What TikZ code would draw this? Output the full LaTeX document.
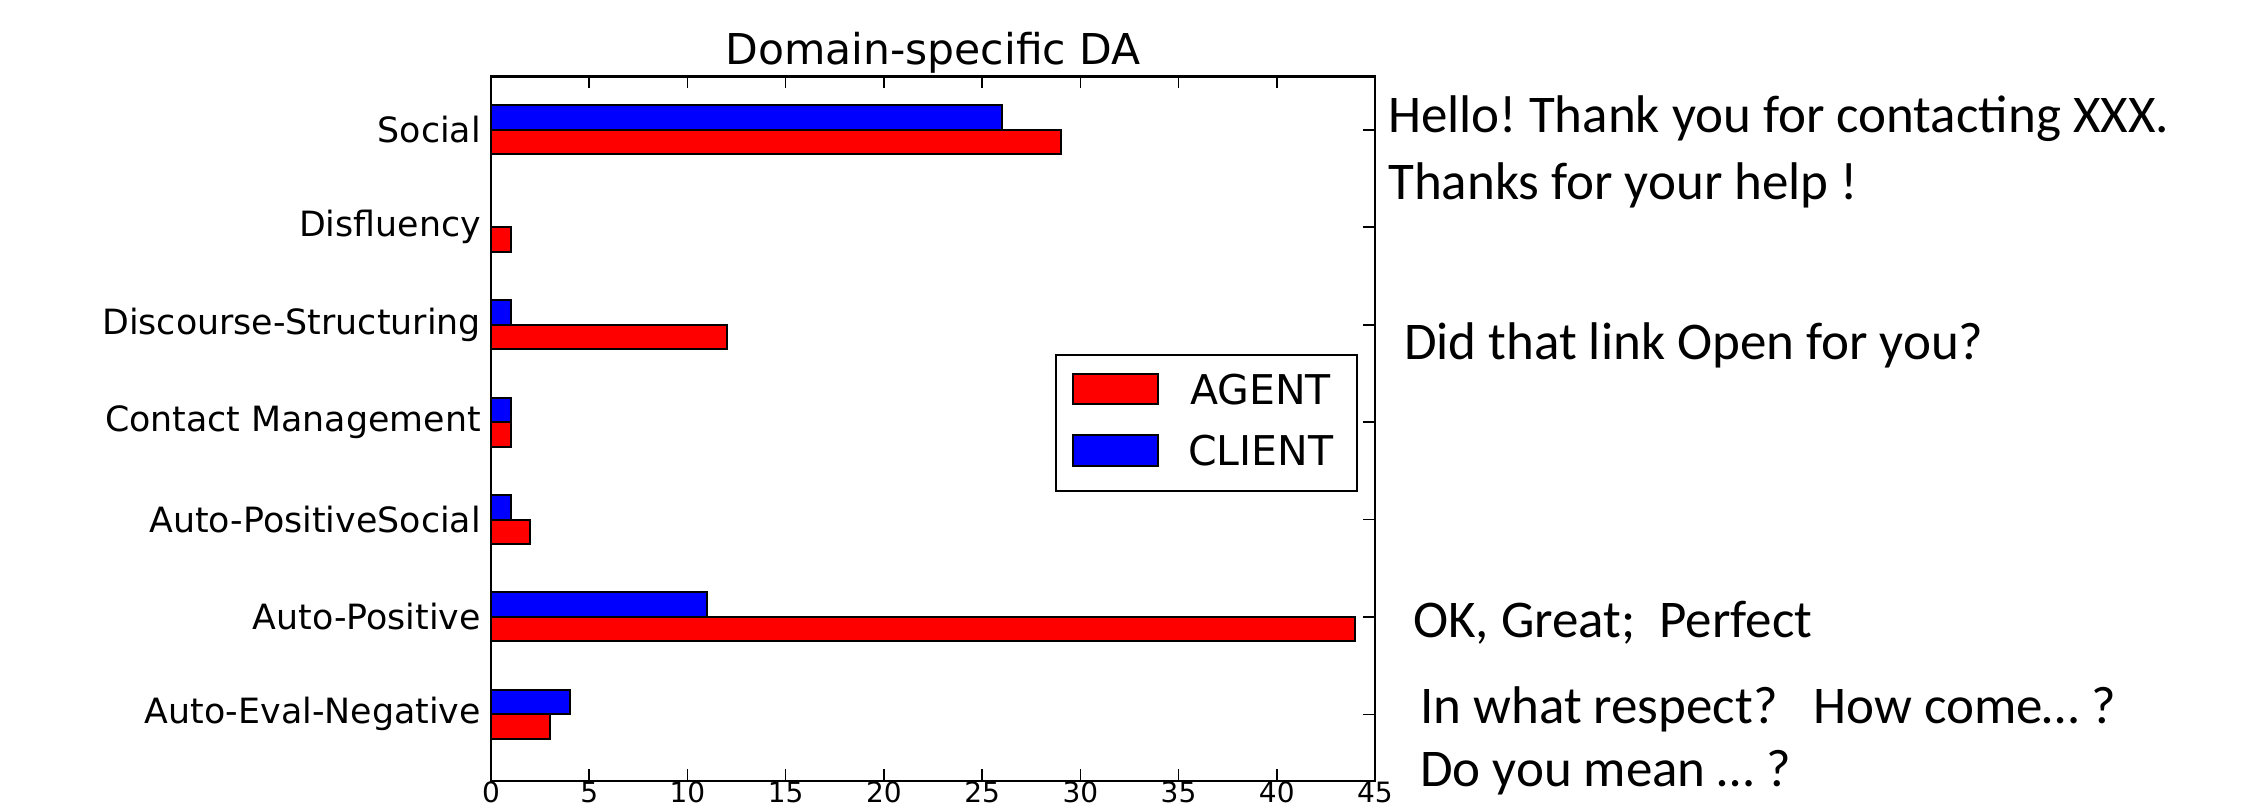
\documentclass[tikz,border=0pt]{standalone}
\usepackage{fontspec}
\setmainfont{DejaVu Sans}
\newfontfamily\calib{Carlito}
\frenchspacing
\begin{document}
\begin{tikzpicture}[x=1pt,y=-1pt,
  frame/.style={draw=black,line width=2.2pt},
  barline/.style={draw=black,line width=2pt},
  agentbar/.style={barline,fill=red},
  clientbar/.style={barline,fill=blue},
  tickline/.style={draw=black,line width=1.6pt},
  catlab/.style={anchor=east,inner sep=0pt,font=\fontsize{34.8}{41}\selectfont},
  ticklab/.style={anchor=base,inner sep=0pt,font=\fontsize{28}{34}\selectfont},
  legtext/.style={anchor=base west,inner sep=0pt,font=\fontsize{41}{48}\selectfont},
  sidetext/.style={anchor=base west,inner sep=0pt,font=\calib\fontsize{53}{60}\selectfont}]
\useasboundingbox (0,0) rectangle (2263,805);
\fill[white] (0,0) rectangle (2263,805);
% title
\node[anchor=base,inner sep=0pt,font=\fontsize{42.5}{50}\selectfont] (title) at (933,65) {Domain-specific DA};
% bars and category labels
\foreach \i/\b/\r/\lab in {0/26/29/Social,1/0/1/Disfluency,2/1/12/Discourse-Structuring,3/1/1/Contact Management,4/1/2/Auto-PositiveSocial,5/11/44/Auto-Positive,6/4/3/Auto-Eval-Negative}{
  \pgfmathsetmacro\yc{129.9+97.4*\i}
  \draw[clientbar] (491,{\yc-24.5}) rectangle ({491+\b*19.644},\yc);
  \draw[agentbar] (491,\yc) rectangle ({491+\r*19.644},{\yc+24.5});
  \node[catlab] (cat\i) at (481,\yc) {\lab};
  \draw[tickline] (491,\yc) -- (503,\yc);
  \draw[tickline] (1375,\yc) -- (1363,\yc);
}
% x ticks and labels
\foreach \v in {0,5,...,45}{
  \pgfmathsetmacro\xv{491+\v*19.644}
  \draw[tickline] (\xv,781) -- (\xv,769);
  \draw[tickline] (\xv,76.5) -- (\xv,88.5);
  \node[ticklab] (tl\v) at (\xv,802.5) {\v};
}
% axes frame
\draw[frame] (491,76.5) rectangle (1375,781);
% legend
\draw[frame,fill=white] (1056,355) rectangle (1357,491);
\draw[agentbar] (1073,374) rectangle (1158,404);
\draw[clientbar] (1073,435) rectangle (1158,466);
\node[legtext] (lagent) at (1190,404) {AGENT};
\node[legtext] (lclient) at (1188,465) {CLIENT};
% side texts
\node[sidetext] (t1) at (1388,133) {Hello! Thank you for contacting XXX.};
\node[sidetext] (t2) at (1388,200) {Thanks for your help !};
\node[sidetext] (t3) at (1404,359) {Did that link Open for you?};
\node[sidetext] (t4) at (1413,637) {OK, Great;~~Perfect};
\node[sidetext] (t5) at (1420,723) {In what respect?~~~How come… ?};
\node[sidetext] (t6) at (1420,786) {Do you mean … ?};
\end{tikzpicture}
\end{document}
